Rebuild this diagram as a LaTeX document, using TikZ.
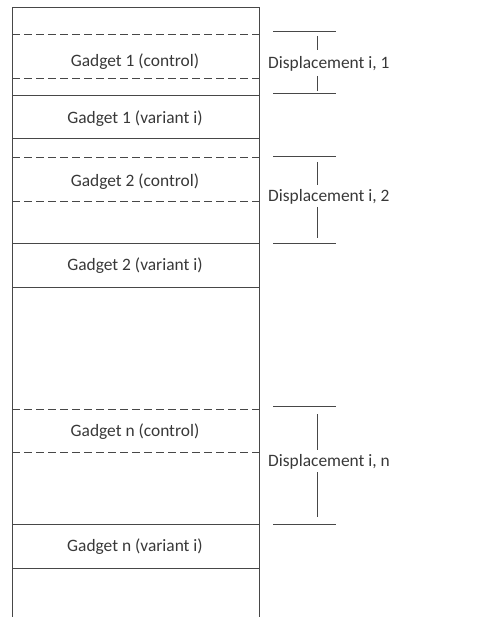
\documentclass[tikz,border=0pt]{standalone}
\usepackage{fontspec}
\setmainfont{Carlito}
\begin{document}
\begin{tikzpicture}[x=1pt,y=-1pt,
  solidline/.style={draw=black!72, line width=1pt},
  dashline/.style={draw=black!72, line width=1pt, dash pattern=on 7.5pt off 4.5pt},
  tick/.style={draw=black!72, line width=1pt},
  lbl/.style={font=\fontsize{17.4}{20}\selectfont, text=black!78, inner sep=0pt}]
\useasboundingbox (0,0) rectangle (482,617);
% outer column
\coordinate (tl) at (12,8);  \coordinate (tr) at (259,8);
\coordinate (bl) at (12,617); \coordinate (br) at (259,617);
\draw[solidline] (bl) -- (tl) -- (tr) -- (br);
% solid lines
\foreach \n/\y in {s1/96, s2/139, s3/243, s4/287, s5/524, s6/568}{
  \coordinate (\n l) at (12,\y); \coordinate (\n r) at (259,\y);
  \draw[solidline] (\n l) -- (\n r);
}
% dashed lines
\foreach \n/\y in {d1/35, d2/79, d3/158, d4/202, d5/409, d6/452}{
  \coordinate (\n l) at (12,\y); \coordinate (\n r) at (259,\y);
  \draw[dashline] (\n l) -- (\n r);
}
% labels in column
\node[lbl] (g1c) at (135,62) {Gadget 1 (control)};
\node[lbl] (g1v) at (135,119) {Gadget 1 (variant i)};
\node[lbl] (g2c) at (135,182) {Gadget 2 (control)};
\node[lbl] (g2v) at (135,266) {Gadget 2 (variant i)};
\node[lbl] (gnc) at (135,432) {Gadget n (control)};
\node[lbl] (gnv) at (135,547) {Gadget n (variant i)};
% displacement labels
\node[lbl, anchor=west] (disp1) at (268,64) {Displacement i, 1};
\node[lbl, anchor=west] (disp2) at (268,197) {Displacement i, 2};
\node[lbl, anchor=west] (dispn) at (268,462) {Displacement i, n};
% bracket 1
\coordinate (b1tl) at (273,32); \coordinate (b1tr) at (336,32);
\coordinate (b1bl) at (273,94); \coordinate (b1br) at (336,94);
\draw[tick] (b1tl) -- (b1tr);
\draw[tick] (b1bl) -- (b1br);
\coordinate (b1a) at (317,36); \coordinate (b1b) at (317,50);
\coordinate (b1c) at (317,76); \coordinate (b1d) at (317,91);
\draw[tick] (b1a) -- (b1b);
\draw[tick] (b1c) -- (b1d);
% bracket 2
\coordinate (b2tl) at (273,157); \coordinate (b2tr) at (336,157);
\coordinate (b2bl) at (273,243); \coordinate (b2br) at (336,243);
\draw[tick] (b2tl) -- (b2tr);
\draw[tick] (b2bl) -- (b2br);
\coordinate (b2a) at (317,162); \coordinate (b2b) at (317,185);
\coordinate (b2c) at (317,207); \coordinate (b2d) at (317,238);
\draw[tick] (b2a) -- (b2b);
\draw[tick] (b2c) -- (b2d);
% bracket n
\coordinate (bntl) at (273,406); \coordinate (bntr) at (336,406);
\coordinate (bnbl) at (273,524); \coordinate (bnbr) at (336,524);
\draw[tick] (bntl) -- (bntr);
\draw[tick] (bnbl) -- (bnbr);
\coordinate (bna) at (317,414); \coordinate (bnb) at (317,450);
\coordinate (bnc) at (317,472); \coordinate (bnd) at (317,517);
\draw[tick] (bna) -- (bnb);
\draw[tick] (bnc) -- (bnd);
\end{tikzpicture}
\end{document}
